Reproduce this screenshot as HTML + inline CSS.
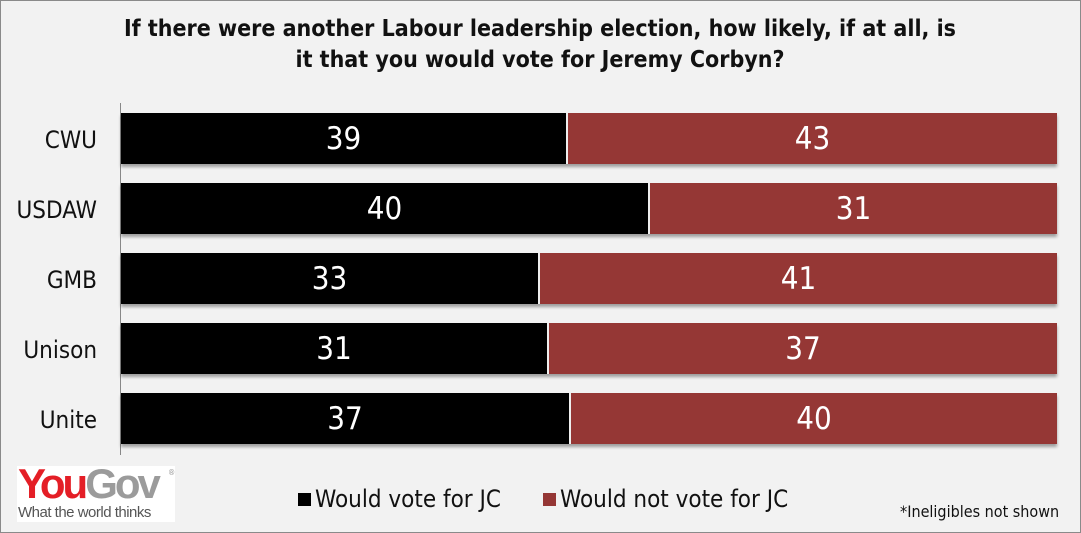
<!DOCTYPE html>
<html><head><meta charset="utf-8"><style>
body{margin:0;width:1081px;height:533px;background:#f2f2f2;font-family:"DejaVu Sans Condensed","Liberation Sans Narrow","Liberation Sans",sans-serif;position:relative;overflow:hidden}
.frame{position:absolute;left:0;top:0;width:1079px;height:531px;border:1px solid #8a8a8a}
.title{position:absolute;left:40px;width:1000px;top:14px;text-align:center;font-weight:bold;font-size:23px;line-height:31px;color:#111}
.axis{position:absolute;left:120px;top:103px;width:1px;height:352px;background:#888}
.row{position:absolute;left:121px;width:936px;height:51px;box-shadow:0 3px 3px rgba(0,0,0,0.35)}
.b{position:absolute;top:0;height:51px;color:#fff;font-size:31px;line-height:53px;text-align:center}
.k{background:#000;left:0}
.r{background:#953735;right:0;border-left:2px solid #eee}
.lab{position:absolute;left:0;width:97px;text-align:right;font-size:24px;color:#111}
.leg{position:absolute;top:485px;font-size:24px;color:#111}
.sq{display:inline-block;width:13px;height:13px;margin-right:4px;vertical-align:1px}
</style></head><body>
<div class="frame"></div>
<div class="title">If there were another Labour leadership election, how likely, if at all, is<br>it that you would vote for Jeremy Corbyn?</div>
<div class="axis"></div>

<div class="lab" style="top:126px">CWU</div>
<div class="row" style="top:113px"><div class="b k" style="width:445px">39</div><div class="b r" style="width:489px">43</div></div>
<div class="lab" style="top:196px">USDAW</div>
<div class="row" style="top:183px"><div class="b k" style="width:527px">40</div><div class="b r" style="width:407px">31</div></div>
<div class="lab" style="top:266px">GMB</div>
<div class="row" style="top:253px"><div class="b k" style="width:417px">33</div><div class="b r" style="width:517px">41</div></div>
<div class="lab" style="top:336px">Unison</div>
<div class="row" style="top:323px"><div class="b k" style="width:426px">31</div><div class="b r" style="width:508px">37</div></div>
<div class="lab" style="top:406px">Unite</div>
<div class="row" style="top:393px"><div class="b k" style="width:448px">37</div><div class="b r" style="width:486px">40</div></div>

<div style="position:absolute;left:17px;top:466px;width:158px;height:56px;background:#fff">
<div style="position:absolute;left:1px;top:-6px;font-family:'Liberation Sans',sans-serif;font-weight:bold;font-size:42px;letter-spacing:-3px;line-height:48px"><span style="color:#e41e26">You</span><span style="color:#9b9b9b">Gov</span></div>
<div style="position:absolute;left:151px;top:2px;font-size:8px;color:#999">®</div>
<div style="position:absolute;left:1px;top:38px;font-family:'Liberation Sans',sans-serif;font-size:15px;color:#555;letter-spacing:-0.5px">What the world thinks</div>
</div>
<div class="leg" style="left:298px"><span class="sq" style="background:#000"></span>Would vote for JC</div>
<div class="leg" style="left:543px"><span class="sq" style="background:#953735"></span>Would not vote for JC</div>
<div style="position:absolute;left:900px;top:502px;font-size:16px;color:#111">*Ineligibles not shown</div>
</body></html>
